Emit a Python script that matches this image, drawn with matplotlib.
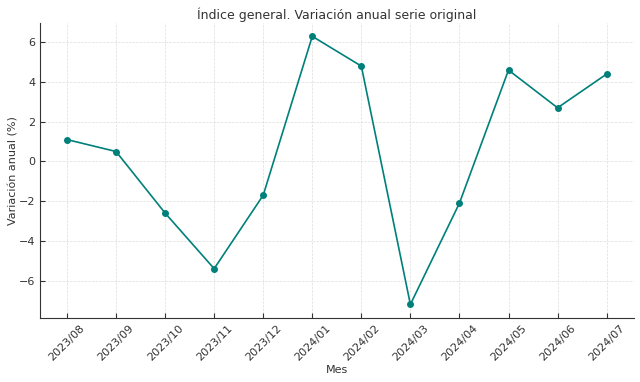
import matplotlib
matplotlib.use("Agg")
import matplotlib.pyplot as plt

months = ["2023/08", "2023/09", "2023/10", "2023/11", "2023/12", "2024/01",
          "2024/02", "2024/03", "2024/04", "2024/05", "2024/06", "2024/07"]
values = [1.1, 0.5, -2.6, -5.4, -1.7, 6.3, 4.8, -7.2, -2.1, 4.6, 2.7, 4.4]

text_color = "#333333"
plt.rcParams['font.family'] = ['DejaVu Sans']

fig, ax = plt.subplots(figsize=(6.4, 3.82), dpi=100)
ax.plot(months, values, marker='o', color='#00807a', linewidth=1.2, markersize=4)

ax.set_title("Índice general. Variación anual serie original", fontsize=9, color=text_color, pad=3)
ax.set_xlabel("Mes", fontsize=8, color=text_color, labelpad=2)
ax.set_ylabel("Variación anual (%)", fontsize=8, color=text_color, labelpad=0)
ax.grid(True, linestyle='--', linewidth=0.5, color='#dddddd')
ax.tick_params(direction='in', labelsize=8, colors=text_color)
ax.tick_params(axis='x', rotation=45)
for s in ['top', 'right']:
    ax.spines[s].set_visible(False)
for s in ['left', 'bottom']:
    ax.spines[s].set_color('#333333')

fig.subplots_adjust(left=0.0625, right=0.99, top=0.94, bottom=0.168)
fig.savefig("out.png", dpi=100)
